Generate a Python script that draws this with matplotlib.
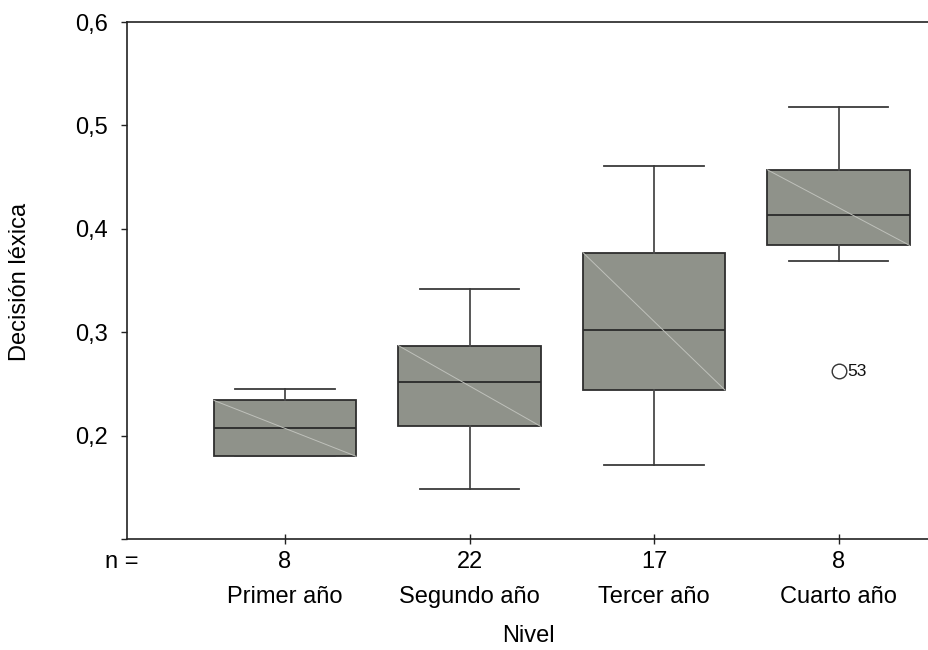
import matplotlib
matplotlib.use("Agg")
import matplotlib.pyplot as plt
import matplotlib.transforms as mtransforms

plt.rcParams['font.family'] = ['Liberation Sans', 'DejaVu Sans']

# ---- data ----
categories = ["Primer año", "Segundo año", "Tercer año", "Cuarto año"]
n_values = [8, 22, 17, 8]
whis_low = [0.180, 0.148, 0.172, 0.369]
q1 = [0.180, 0.209, 0.244, 0.384]
medians = [0.207, 0.252, 0.302, 0.413]
q3 = [0.234, 0.287, 0.377, 0.457]
whis_high = [0.245, 0.342, 0.461, 0.518]
outlier_values = [[], [], [], [0.262]]
outlier_labels = [[], [], [], ["53"]]
y_ticks = [0.1, 0.2, 0.3, 0.4, 0.5, 0.6]
y_ticklabels = ["", "0,2", "0,3", "0,4", "0,5", "0,6"]

fig = plt.figure(figsize=(9.29, 6.5), dpi=100)
ax = fig.add_axes([127/929, 111/650, 802/929, 517/650])

positions = list(range(1, len(categories) + 1))
stats = []
for i in range(len(categories)):
    stats.append(dict(med=medians[i], q1=q1[i], q3=q3[i],
                      whislo=whis_low[i], whishi=whis_high[i],
                      fliers=outlier_values[i]))

box_w = 0.77
ax.bxp(stats, positions=positions, widths=box_w, patch_artist=True,
       showfliers=False, capwidths=0.537,
       boxprops=dict(facecolor='#8f928a', edgecolor='#2e2e2e', linewidth=1.3),
       medianprops=dict(color='#2a2a2a', linewidth=1.3),
       whiskerprops=dict(color='#4a4a4a', linewidth=1.3),
       capprops=dict(color='#3a3a3a', linewidth=1.3))

# diagonal artifact line inside boxes
for p, lo, hi in zip(positions, q1, q3):
    ax.plot([p - box_w/2, p + box_w/2], [hi, lo], color='#bfc1bb',
            linewidth=0.7, zorder=3)

# outliers
for p, vals, labs in zip(positions, outlier_values, outlier_labels):
    for v, lab in zip(vals, labs):
        ax.plot([p], [v], marker='o', markersize=10.5, markerfacecolor='white',
                markeredgecolor='#333333', markeredgewidth=1.0, zorder=4)
        ax.annotate(lab, (p, v), xytext=(6, 0), textcoords='offset points',
                    ha='left', va='center', fontsize=12.5, color='#111111')

ax.set_xlim(0.1436, 4.4905)
ax.set_ylim(0.1, 0.6)

ax.spines['right'].set_visible(False)
for s in ['left', 'top', 'bottom']:
    ax.spines[s].set_linewidth(1.2)
    ax.spines[s].set_color('#222222')

ax.set_yticks(y_ticks)
ax.set_yticklabels(y_ticklabels)
ax.tick_params(axis='y', direction='out', length=4, width=1, pad=10,
               labelsize=17, colors='#222222', labelcolor='black')
ax.set_xticks(positions)
ax.set_xticklabels([])
ax.tick_params(axis='x', direction='inout', length=7, width=1,
               colors='#222222')

trans = mtransforms.blended_transform_factory(ax.transData, ax.transAxes)
for p, n, c in zip(positions, n_values, categories):
    ax.text(p, -23/517, str(n), transform=trans, ha='center', va='center',
            fontsize=17)
    ax.text(p, -58/517, c, transform=trans, ha='center', va='center',
            fontsize=17)
ax.text(-5/802, -23/517, "n =", transform=ax.transAxes, ha='center',
        va='center', fontsize=17)
ax.text(0.5, -97/517, "Nivel", transform=ax.transAxes, ha='center',
        va='center', fontsize=17)
ax.text(-107/802, 0.498, "Decisión léxica", transform=ax.transAxes,
        ha='center', va='center', rotation=90, fontsize=17)

fig.savefig("out.png", dpi=100)
